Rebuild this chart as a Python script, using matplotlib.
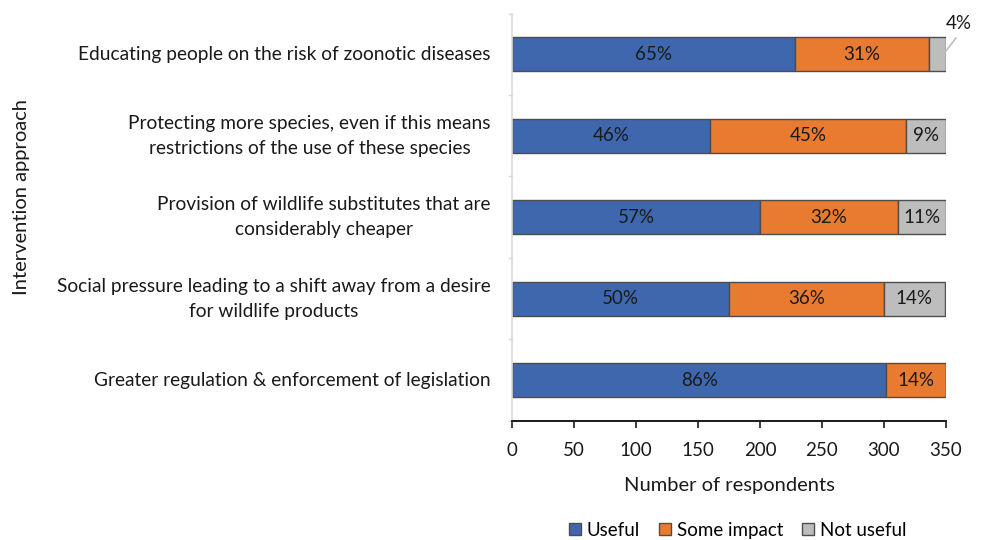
import matplotlib
matplotlib.use("Agg")
import matplotlib.pyplot as plt
import matplotlib.transforms as mtransforms
import numpy as np

plt.rcParams['font.family'] = ['Lato', 'DejaVu Sans']

categories = [
    "Educating people on the risk of zoonotic diseases",
    "Protecting more species, even if this means\nrestrictions of the use of these species",
    "Provision of wildlife substitutes that are\nconsiderably cheaper",
    "Social pressure leading to a shift away from a desire\nfor wildlife products",
    "Greater regulation & enforcement of legislation",
]
useful = [228, 160, 200, 175, 302]
some_impact = [108, 158, 111, 125, 48]
not_useful = [14, 32, 39, 49, 0]

series_names = ["Useful", "Some impact", "Not useful"]
colors = ["#3e67ae", "#e97b30", "#bdbdbd"]

fig = plt.figure(figsize=(9.81, 5.4), dpi=100)
ax = fig.add_axes([0.5219, 0.2204, 0.4424, 0.7546])

y = np.arange(len(categories))
totals = np.array(useful) + np.array(some_impact) + np.array(not_useful)
left = np.zeros(len(categories))
bar_h = 0.42
for vals, name, col in zip([useful, some_impact, not_useful], series_names, colors):
    vals = np.array(vals)
    ax.barh(y, vals, left=left, height=bar_h, color=col,
            edgecolor="#4d4d4d", linewidth=1.0, label=name)
    for i, (v, l) in enumerate(zip(vals, left)):
        if v <= 0:
            continue
        pct = f"{round(100 * v / totals[i])}%"
        if v < 20:
            # small segment: label sits above the bar end with a leader line
            x_end = l + v
            ax.plot([x_end - 1, x_end + 8], [y[i] - 0.02, y[i] - 0.2],
                    color="#bfbfbf", lw=1.2, clip_on=False)
            ax.text(x_end + 10, y[i] - 0.38, pct, ha="center", va="center",
                    fontsize=13.5, color="#1a1a1a", clip_on=False)
        else:
            ax.text(l + v / 2, y[i], pct, ha="center", va="center",
                    fontsize=13.5, color="#1a1a1a")
    left = left + vals

ax.set_xlim(0, 350)
ax.set_ylim(len(categories) - 0.5, -0.5)
ax.set_xticks(np.arange(0, 351, 50))
ax.set_yticks(y)
ax.set_yticklabels([])
ax.tick_params(axis="y", length=0)
ax.tick_params(axis="x", direction="out", length=5, width=1.2, color="#1a1a1a",
               labelsize=13.5, labelcolor="#1a1a1a", pad=10)

# category labels: right edge near the axis, lines centred within each label
lab_trans = mtransforms.offset_copy(ax.get_yaxis_transform(), fig=fig,
                                    x=-21, y=0, units="dots")
for yi, cat in zip(y, categories):
    ax.text(0, yi, cat, transform=lab_trans, ha="right", va="center",
            multialignment="center", fontsize=13.8, color="#1a1a1a",
            linespacing=1.55)

# light category separators on the value axis
for b in np.arange(-0.5, len(categories) + 0.5, 1.0):
    ax.plot([-2.5, 0], [b, b], color="#d9d9d9", lw=1, clip_on=False)

for s in ["top", "right"]:
    ax.spines[s].set_visible(False)
ax.spines["left"].set_color("#d9d9d9")
ax.spines["left"].set_linewidth(1.2)
ax.spines["bottom"].set_color("#1a1a1a")
ax.spines["bottom"].set_linewidth(1.4)

ax.set_xlabel("Number of respondents", fontsize=14.5, color="#1a1a1a", labelpad=13)
fig.text(0.022, 0.635, "Intervention approach", rotation=90, ha="center",
         va="center", fontsize=14.5, color="#1a1a1a")

fig.legend(loc="center", bbox_to_anchor=(0.752, 0.018), ncol=3, frameon=False,
           fontsize=13.5, handlelength=0.65, handleheight=0.65, handletextpad=0.3,
           columnspacing=1.0, borderaxespad=0)

fig.savefig("out.png", dpi=100)
